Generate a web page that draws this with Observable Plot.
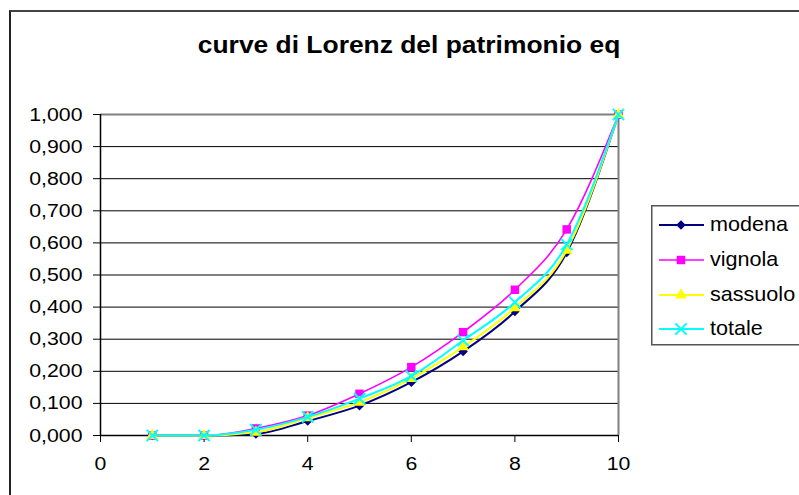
<!DOCTYPE html>
<html><head><meta charset="utf-8">
<script src="https://cdn.jsdelivr.net/npm/d3@7"></script>
<script src="https://cdn.jsdelivr.net/npm/@observablehq/plot@0.6"></script>
<style>
body{margin:0;background:#fff;font-family:"Liberation Sans",Arial,sans-serif;}
#wrap{position:relative;width:799px;height:495px;overflow:hidden;background:#fff}
#frame{position:absolute;left:9px;top:10px;width:820px;height:520px;border-left:2px solid #222;border-top:2px solid #444;box-sizing:border-box}
#chart{position:absolute;left:0;top:0}
#title{position:absolute;left:159px;width:500px;top:33px;text-align:center;font-weight:bold;font-size:24px;line-height:24px;white-space:nowrap}
#title span{display:inline-block;transform:scaleX(1.1)}
#legend{position:absolute;left:651px;top:205px}
</style></head>
<body><div id="wrap"><div id="frame"></div><div id="chart"></div><div id="title"><span>curve di Lorenz del patrimonio eq</span></div><svg id="legend" width="148" height="141"></svg></div>
<script>
const xs = [1, 2, 3, 4, 5, 6, 7, 8, 9, 10];
const modena   = [0, 0, 0.005, 0.045, 0.093, 0.166, 0.262, 0.386, 0.570, 1.000];
const vignola  = [0, 0, 0.022, 0.062, 0.130, 0.213, 0.322, 0.454, 0.642, 1.000];
const sassuolo = [0, 0, 0.010, 0.055, 0.103, 0.177, 0.276, 0.398, 0.577, 1.000];
const totale   = [0, 0, 0.018, 0.058, 0.115, 0.185, 0.296, 0.415, 0.595, 1.000];
const yTicks = [0, 0.1, 0.2, 0.3, 0.4, 0.5, 0.6, 0.7, 0.8, 0.9, 1.0];
const xTicks = [0, 2, 4, 6, 8, 10];
const seriesNames = ["modena", "vignola", "sassuolo", "totale"];

const series = [
  {name: seriesNames[0], values: modena,   color: "#000080", symbol: "diamond2",  r: 4.3, sw: 2},
  {name: seriesNames[1], values: vignola,  color: "#FF00FF", symbol: "square2",   r: 5.4, sw: 1.6},
  {name: seriesNames[2], values: sassuolo, color: "#FFFF00", symbol: "triangle2", r: 5.6, sw: 2},
  {name: seriesNames[3], values: totale,   color: "#00FFFF", symbol: "times",     r: 5.2, sw: 2}
];

const marks = [
  Plot.ruleY(yTicks.slice(1, -1), {stroke: "#000", strokeWidth: 1}),
  Plot.ruleY([1], {stroke: "#808080", strokeWidth: 2}),
  Plot.ruleX([10], {stroke: "#808080", strokeWidth: 2}),
  Plot.axisY({ticks: yTicks, tickSize: 7, tickPadding: 11, fontSize: 19, label: null,
    tickFormat: d => d.toFixed(3).replace(".", ","), stroke: "#000"}),
  Plot.axisX({ticks: xTicks, tickSize: 7, tickPadding: 14, fontSize: 19, label: null, stroke: "#000"}),
  Plot.ruleX([0], {stroke: "#000", strokeWidth: 1.5}),
  Plot.ruleY([0], {stroke: "#000", strokeWidth: 1.5})
];
for (const s of series) {
  const data = xs.map((x, i) => ({x, y: s.values[i]}));
  marks.push(Plot.line(data, {x: "x", y: "y", stroke: s.color, strokeWidth: s.sw, curve: "monotone-x"}));
  if (s.symbol === "times")
    marks.push(Plot.dot(data, {x: "x", y: "y", symbol: s.symbol, r: s.r, stroke: s.color, strokeWidth: 2}));
  else
    marks.push(Plot.dot(data, {x: "x", y: "y", symbol: s.symbol, r: s.r, fill: s.color, stroke: "none"}));
}

const chart = Plot.plot({
  width: 799, height: 495,
  marginLeft: 100, marginRight: 181, marginTop: 114, marginBottom: 60,
  style: {background: "transparent", fontFamily: "Liberation Sans, Arial, sans-serif", color: "#000"},
  x: {domain: [0, 10], axis: null},
  y: {domain: [0, 1], axis: null},
  marks
});
document.getElementById("chart").append(chart);
// Excel-style slightly wider glyphs for tick labels
chart.querySelectorAll("g[aria-label='y-axis tick label'] text, g[aria-label='x-axis tick label'] text").forEach(t => {
  const tr = t.getAttribute("transform") || "";
  t.setAttribute("transform", tr + " scale(1.12,1)");
});

// legend
const lg = d3.select("#legend");
lg.append("rect").attr("x", 0.75).attr("y", 0.75).attr("width", 200).attr("height", 139)
  .attr("fill", "#fff").attr("stroke", "#555").attr("stroke-width", 1.5);
const rowsY = [20, 55, 90, 124];
series.forEach((s, i) => {
  const y = rowsY[i];
  lg.append("line").attr("x1", 8).attr("x2", 53).attr("y1", y).attr("y2", y)
    .attr("stroke", s.color).attr("stroke-width", s.sw);
  const sym = d3.symbol().type({diamond2: d3.symbolDiamond2, square2: d3.symbolSquare2, triangle2: d3.symbolTriangle2, times: d3.symbolTimes}[s.symbol])
    .size(Math.PI * s.r * s.r);
  const p = lg.append("path").attr("d", sym()).attr("transform", `translate(30,${y})`);
  if (s.symbol === "times") p.attr("fill", "none").attr("stroke", s.color).attr("stroke-width", 2);
  else p.attr("fill", s.color);
  lg.append("text").attr("x", 59).attr("y", y).attr("dy", "0.3em")
    .attr("font-size", 20).attr("font-family", "Liberation Sans, Arial, sans-serif")
    .attr("transform", `translate(59,0) scale(1.08,1) translate(-59,0)`)
    .text(s.name);
});
</script></body></html>
